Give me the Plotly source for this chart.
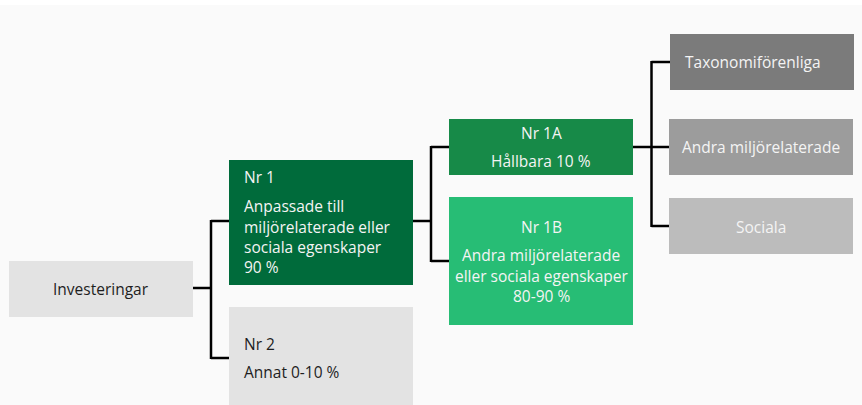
import plotly.graph_objects as go

# ---- data ----
node_ids = ["inv", "nr1", "nr2", "nr1a", "nr1b", "tax", "andra", "soc"]
node_parents = [None, "inv", "inv", "nr1", "nr1", "nr1a", "nr1a", "nr1a"]
node_titles = ["", "Nr 1", "Nr 2", "Nr 1A", "Nr 1B", "", "", ""]
node_texts = [
    ["Investeringar"],
    ["Anpassade till", "miljörelaterade eller", "sociala egenskaper", "90 %"],
    ["Annat 0-10 %"],
    ["Hållbara 10 %"],
    ["Andra miljörelaterade", "eller sociala egenskaper", "80-90 %"],
    ["Taxonomiförenliga"],
    ["Andra miljörelaterade"],
    ["Sociala"],
]

# ---- layout (pixel boxes: x0, y0, x1, y1) ----
boxes = {
    "inv": (9, 261, 193, 317),
    "nr1": (229, 160, 413, 285),
    "nr2": (229, 307, 413, 410),
    "nr1a": (449, 119, 633, 175),
    "nr1b": (449, 197, 633, 325),
    "tax": (670, 34, 854, 90),
    "andra": (669, 119, 853, 175),
    "soc": (669, 198, 853, 254),
}
fills = {
    "inv": "#e3e3e3", "nr1": "#006b3b", "nr2": "#e3e3e3", "nr1a": "#178a48",
    "nr1b": "#27bd75", "tax": "#7b7b7b", "andra": "#9c9c9c", "soc": "#bcbcbc",
}
txtcol = {
    "inv": "#1e1e1e", "nr2": "#1e1e1e",
}
attach = {"inv": 288, "nr1": 221, "nr2": 358, "nr1a": 147, "nr1b": 261,
          "tax": 62, "andra": 147, "soc": 226}
text_lines_y = {
    "inv": [289],
    "nr1": [177, 206, 227, 247, 267],
    "nr2": [344, 372],
    "nr1a": [133, 161],
    "nr1b": [227, 255, 276, 296],
    "tax": [62],
    "andra": [147],
    "soc": [227],
}
align = {"inv": "center", "nr1": "left", "nr2": "left", "nr1a": "center",
         "nr1b": "center", "tax": "left", "andra": "center", "soc": "center"}

W, H = 862, 405
FONT = "Open Sans, Noto Sans, sans-serif"
FS = 15.5
PAD = 13
fig = go.Figure()
shapes = []
annotations = []

shapes.append(dict(type="rect", x0=0, y0=5, x1=W, y1=H + 5, fillcolor="#fafafa",
                   line=dict(width=0), layer="below"))

for nid, par, title, lines in zip(node_ids, node_parents, node_titles, node_texts):
    x0, y0, x1, y1 = boxes[nid]
    shapes.append(dict(type="rect", x0=x0, y0=y0, x1=x1, y1=y1,
                       fillcolor=fills[nid], line=dict(width=0), layer="below"))
    all_lines = ([title] if title else []) + lines
    col = txtcol.get(nid, "#f4f4f4")
    for ln, yy in zip(all_lines, text_lines_y[nid]):
        if align[nid] == "left":
            annotations.append(dict(x=x0 + PAD, y=yy, text=ln, showarrow=False,
                                    xanchor="left", yanchor="middle",
                                    font=dict(family=FONT, size=FS, color=col)))
        else:
            annotations.append(dict(x=(x0 + x1) / 2, y=yy, text=ln, showarrow=False,
                                    xanchor="center", yanchor="middle",
                                    font=dict(family=FONT, size=FS, color=col)))

groups = {}
for nid, par in zip(node_ids, node_parents):
    if par:
        groups.setdefault(par, []).append(nid)
for par, kids in groups.items():
    px = boxes[par][2]
    cx0 = boxes[kids[0]][0]
    mx = (px + cx0) / 2
    py = attach[par]
    ys = [attach[k] for k in kids]
    line = dict(color="#000000", width=2.5)
    shapes.append(dict(type="line", x0=px, y0=py, x1=mx, y1=py, line=line))
    shapes.append(dict(type="line", x0=mx, y0=min(ys) - 1, x1=mx, y1=max(ys) + 1, line=line))
    for k in kids:
        shapes.append(dict(type="line", x0=mx, y0=attach[k], x1=boxes[k][0],
                           y1=attach[k], line=line))

fig.update_layout(
    width=W, height=H, margin=dict(l=0, r=0, t=0, b=0),
    paper_bgcolor="#ffffff", plot_bgcolor="#ffffff",
    xaxis=dict(range=[0, W], visible=False, fixedrange=True),
    yaxis=dict(range=[H, 0], visible=False, fixedrange=True),
    shapes=shapes, annotations=annotations, showlegend=False,
)
fig.write_html("out.html", config={"displayModeBar": False},
               post_script="document.body.style.margin='0px';document.body.style.overflow='hidden';")
